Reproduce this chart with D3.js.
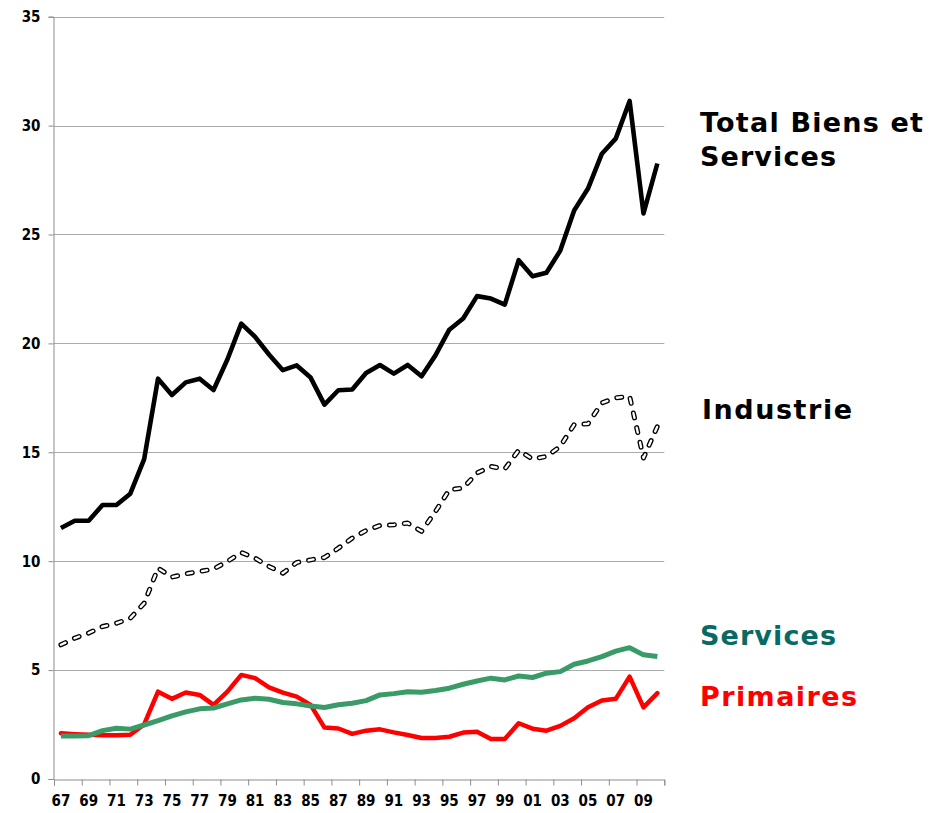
<!DOCTYPE html>
<html>
<head>
<meta charset="utf-8">
<script src="https://cdn.jsdelivr.net/npm/d3@7"></script>
<style>
  html, body { margin: 0; padding: 0; background: #ffffff; }
  svg { display: block; }
</style>
</head>
<body>
<svg id="chart" width="946" height="813"></svg>
<script>
// ---- Data ----
const years = d3.range(1967, 2011);
const tickLabels = ["67","69","71","73","75","77","79","81","83","85","87","89","91","93","95","97","99","01","03","05","07","09"];
const yTicks = [0, 5, 10, 15, 20, 25, 30, 35];

const totalBiensServices = [11.52, 11.86, 11.86, 12.58, 12.58, 13.10, 14.69, 18.38, 17.63, 18.21, 18.38, 17.86, 19.26, 20.91, 20.30, 19.49, 18.77, 18.99, 18.43, 17.19, 17.85, 17.88,
  18.64, 19.01, 18.61, 19.01, 18.49, 19.45, 20.63, 21.14, 22.17, 22.06, 21.78, 23.82, 23.08, 23.24, 24.26, 26.10, 27.11, 28.71, 29.40, 31.13, 25.97, 28.26];
const industrie = [6.16, 6.47, 6.70, 7.00, 7.15, 7.38, 8.07, 9.68, 9.27, 9.42, 9.53, 9.64, 9.99, 10.40, 10.14, 9.76, 9.45, 9.94, 10.06, 10.17, 10.60, 11.06,
  11.41, 11.64, 11.67, 11.75, 11.37, 12.28, 13.28, 13.36, 14.05, 14.35, 14.23, 15.09, 14.69, 14.81, 15.27, 16.27, 16.31, 17.27, 17.50, 17.57, 14.74, 16.19];
const services = [1.98, 1.98, 1.99, 2.22, 2.33, 2.29, 2.48, 2.68, 2.90, 3.08, 3.22, 3.26, 3.45, 3.63, 3.71, 3.66, 3.51, 3.45, 3.35, 3.28, 3.41, 3.48,
  3.60, 3.86, 3.92, 4.01, 3.98, 4.06, 4.17, 4.35, 4.50, 4.63, 4.55, 4.73, 4.66, 4.86, 4.93, 5.27, 5.42, 5.62, 5.87, 6.03, 5.70, 5.62];
const primaires = [2.10, 2.06, 2.03, 2.01, 2.01, 2.03, 2.51, 4.01, 3.68, 3.97, 3.86, 3.40, 4.01, 4.78, 4.63, 4.21, 3.97, 3.78, 3.40, 2.36, 2.32, 2.07,
  2.22, 2.28, 2.14, 2.02, 1.88, 1.88, 1.94, 2.13, 2.17, 1.84, 1.84, 2.56, 2.31, 2.22, 2.44, 2.79, 3.29, 3.60, 3.68, 4.70, 3.29, 3.94];

const labelTotal = ["Total Biens et", "Services"];
const labelIndustrie = "Industrie";
const labelServices = "Services";
const labelPrimaires = "Primaires";

(function () {
// ---- Layout ----
const svg = d3.select("#chart");
svg.append("rect").attr("width", 946).attr("height", 813).attr("fill", "#fff");

const mLeft = 54, mRight = 664.3, mTop = 16.7, mBottom = 779;
const x = d3.scaleBand().domain(years).range([mLeft, mRight]).padding(0);
const xIdx = d3.scaleLinear().domain([0, years.length]).range([mLeft, mRight]);
const y = d3.scaleLinear().domain([0, 35]).range([mBottom, mTop]);

const tickFont = '"Liberation Sans Narrow", "DejaVu Sans Condensed", "Arial Narrow", sans-serif';

// gridlines
svg.append("g")
  .selectAll("line")
  .data(yTicks.filter(d => d > 0))
  .join("line")
  .attr("x1", mLeft).attr("x2", mRight)
  .attr("y1", d => Math.round(y(d)) + 0.5).attr("y2", d => Math.round(y(d)) + 0.5)
  .attr("stroke", "#ababab").attr("stroke-width", 1);

// y axis
const yAxis = svg.append("g")
  .attr("transform", `translate(${mLeft - 0.5},0)`)
  .call(d3.axisLeft(y).tickValues(yTicks).tickSize(5).tickPadding(8).tickFormat(d3.format("d")));
yAxis.select(".domain").attr("stroke", "#8c8c8c");
yAxis.selectAll(".tick line").attr("stroke", "#8c8c8c");
yAxis.selectAll("text")
  .attr("font-family", tickFont).attr("font-weight", "bold").attr("font-size", 15).attr("fill", "#000");

// x axis: tick marks at category boundaries every two years
const xTicksAxis = svg.append("g")
  .attr("transform", `translate(0,${mBottom + 0.5})`)
  .call(d3.axisBottom(xIdx).tickValues(d3.range(0, years.length + 1, 2)).tickSize(6).tickFormat(""));
xTicksAxis.select(".domain").attr("stroke", "#8c8c8c");
xTicksAxis.selectAll(".tick line").attr("stroke", "#8c8c8c");

// x labels at category centres
const labelYears = years.filter((d, i) => i % 2 === 0);
const xLab = svg.append("g")
  .attr("transform", `translate(0,${mBottom})`)
  .call(d3.axisBottom(x).tickValues(labelYears).tickSize(0).tickPadding(16)
    .tickFormat((d, i) => tickLabels[i]));
xLab.select(".domain").remove();
xLab.selectAll("text")
  .attr("font-family", tickFont).attr("font-weight", "bold").attr("font-size", 15).attr("fill", "#000");

// lines
const line = d3.line()
  .x((d, i) => x(years[i]) + x.bandwidth() / 2)
  .y(d => y(d));

svg.append("path").datum(primaires)
  .attr("d", line).attr("fill", "none")
  .attr("stroke", "#ff0000").attr("stroke-width", 4.5)
  .attr("stroke-linejoin", "round").attr("stroke-linecap", "round");

svg.append("path").datum(services)
  .attr("d", line).attr("fill", "none")
  .attr("stroke", "#3a9b68").attr("stroke-width", 5)
  .attr("stroke-linejoin", "round").attr("stroke-linecap", "butt");

// industrie: outlined dashes
svg.append("path").datum(industrie)
  .attr("d", line).attr("fill", "none")
  .attr("stroke", "#000").attr("stroke-width", 5)
  .attr("stroke-dasharray", "5 10")
  .attr("stroke-linejoin", "round").attr("stroke-linecap", "round");
svg.append("path").datum(industrie)
  .attr("d", line).attr("fill", "none")
  .attr("stroke", "#fff").attr("stroke-width", 2.3)
  .attr("stroke-dasharray", "5 10")
  .attr("stroke-linejoin", "round").attr("stroke-linecap", "round");

svg.append("path").datum(totalBiensServices)
  .attr("d", line).attr("fill", "none")
  .attr("stroke", "#000").attr("stroke-width", 4.6)
  .attr("stroke-linejoin", "round").attr("stroke-linecap", "butt");

// labels
const legendFont = '"DejaVu Sans", Verdana, sans-serif';
function addLabel(txt, xx, yy, color, width) {
  svg.append("text")
    .attr("x", xx).attr("y", yy)
    .attr("font-family", legendFont).attr("font-weight", "bold").attr("font-size", 27)
    .attr("fill", color)
    .attr("textLength", width).attr("lengthAdjust", "spacing")
    .text(txt);
}
addLabel(labelTotal[0], 700, 132, "#000", 223);
addLabel(labelTotal[1], 700, 166, "#000", 136);
addLabel(labelIndustrie, 702, 419, "#000", 150);
addLabel(labelServices, 700, 645, "#076a64", 136);
addLabel(labelPrimaires, 700, 706, "#ff0000", 157);
})();
</script>
</body>
</html>
